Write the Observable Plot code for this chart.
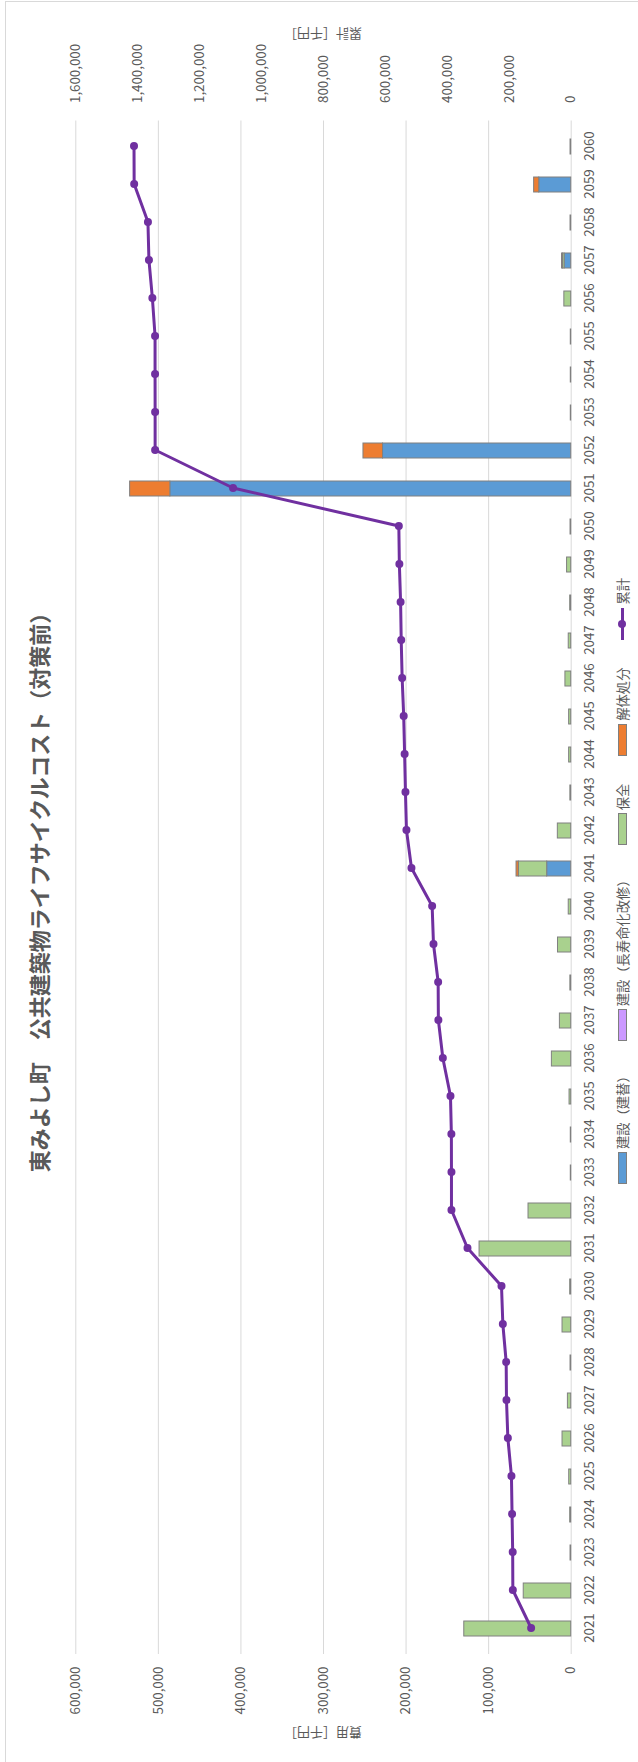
<!DOCTYPE html>
<html><head><meta charset="utf-8">
<script src="https://cdn.jsdelivr.net/npm/d3@7"></script>
<script src="https://cdn.jsdelivr.net/npm/@observablehq/plot@0.6"></script>
<style>
html,body{margin:0;padding:0;width:638px;height:1762px;overflow:hidden;background:#fff;}
#stage{position:absolute;left:0;top:0;width:1762px;height:638px;transform-origin:0 0;transform:translate(0,1762px) rotate(-90deg);font-family:"Noto Sans CJK JP","Noto Sans",sans-serif;color:#595959;}
#frame{position:absolute;left:-5px;top:5px;width:1766px;height:700px;border:1px solid #d9d9d9;box-sizing:border-box;}
#chart{position:absolute;left:0;top:0;}
#title{position:absolute;left:108px;width:1534px;top:26px;text-align:center;font-size:22px;font-weight:bold;line-height:24px;white-space:pre;color:#595959;}
.axtitle{position:absolute;font-size:13px;line-height:16px;white-space:nowrap;transform:translate(-50%,-50%) rotate(-90deg);}
#legend{position:absolute;left:0;width:1762px;top:612px;height:20px;display:flex;justify-content:center;align-items:center;gap:28px;font-size:13.3px;}
.item{display:flex;align-items:center;gap:3px;white-space:nowrap;}
.sw{width:32px;height:9px;border:1px solid #7f7f7f;box-sizing:border-box;}
.ln{position:relative;width:32px;height:9px;}
.ln:before{content:"";position:absolute;left:0;right:0;top:3px;height:3px;background:#7030A0;}
.ln:after{content:"";position:absolute;left:12px;top:0.5px;width:8px;height:8px;border-radius:50%;background:#7030A0;}
</style>
</head><body>
<div id="stage">
  <div id="frame"></div>
  <div id="chart"></div>
  <div id="title">東みよし町　公共建築物ライフサイクルコスト（対策前）</div>
  <div class="axtitle" style="left:29px;top:323px;">費用［千円］</div>
  <div class="axtitle" style="left:1728px;top:323px;">累計［千円］</div>
  <div id="legend"></div>
</div>
<script>
const years = [2021,2022,2023,2024,2025,2026,2027,2028,2029,2030,
  2031,2032,2033,2034,2035,2036,2037,2038,2039,2040,
  2041,2042,2043,2044,2045,2046,2047,2048,2049,2050,
  2051,2052,2053,2054,2055,2056,2057,2058,2059,2060];
const seriesNames = ["建設（建替）","建設（長寿命化改修）","保全","解体処分"];
const seriesColors = ["#5B9BD5","#CC99FF","#A9D18E","#ED7D31"];
const lineName = "累計";
const kensetsuTatekae = [0,0,0,0,0,0,0,0,0,0,
  0,0,0,0,0,0,0,0,0,0,
  29100,0,0,0,0,0,0,0,0,0,
  485500,227900,0,0,0,0,8000,0,38700,0];
const kensetsuChojumyo = [0,0,0,0,0,0,0,0,0,0,
  0,0,0,0,0,0,0,0,0,0,
  0,0,0,0,0,0,0,0,0,0,
  0,0,0,0,0,0,0,0,0,0];
const hozen = [129500,57500,800,1200,2400,10500,4000,800,10500,1200,
  111000,51700,500,500,2000,23400,13700,1000,16000,3000,
  34300,16200,1000,2500,2500,7000,3000,1200,5000,800,
  0,0,500,500,500,8300,2000,800,0,800];
const kaitai = [0,0,0,0,0,0,0,0,0,0,
  0,0,0,0,0,0,0,0,0,0,
  2800,0,0,0,0,0,0,0,0,0,
  48700,23700,0,0,0,0,1100,0,6200,0];
const ruikei = [129500,188500,189000,191000,193000,204600,209000,210000,220800,225100,
  335000,386700,386700,387000,389900,414600,429000,429700,444800,449100,
  515900,532100,535300,538000,541000,546000,549000,551000,555000,556700,
  1092100,1343800,1343800,1344000,1344000,1352700,1363800,1367000,1411500,1412000];
const costTicks = [0,100000,200000,300000,400000,500000,600000];
const cumTicks = [0,200000,400000,600000,800000,1000000,1200000,1400000,1600000];

const k = costTicks[costTicks.length-1] / cumTicks[cumTicks.length-1];
const seriesArrays = [kensetsuTatekae, kensetsuChojumyo, hozen, kaitai];
const rows = [];
years.forEach((yr, i) => {
  seriesArrays.forEach((arr, s) => {
    if (arr[i] > 0) rows.push({year: String(yr), series: seriesNames[s], value: arr[i]});
  });
});
const cum = years.map((yr, i) => ({year: String(yr), v: ruikei[i] * k}));

const chart = Plot.plot({
  width: 1762, height: 638,
  marginLeft: 108, marginRight: 120.5, marginTop: 75.3, marginBottom: 67.3,
  style: {fontFamily: '"Noto Sans CJK JP", "Noto Sans", sans-serif', fontSize: "13.3px", color: "#595959", background: "transparent", overflow: "visible"},
  x: {type: "band", domain: years.map(String), paddingInner: 0.6, paddingOuter: 0.3, label: null},
  y: {domain: [0, 600000], label: null},
  color: {domain: seriesNames, range: seriesColors},
  marks: [
    Plot.gridY(costTicks, {stroke: "#d9d9d9", strokeOpacity: 1, strokeWidth: 1}),
    Plot.barY(rows, {x: "year", y: "value", fill: "series", order: seriesNames, stroke: "#808080", strokeWidth: 1}),
    Plot.line(cum, {x: "year", y: "v", stroke: "#7030A0", strokeWidth: 3}),
    Plot.dot(cum, {x: "year", y: "v", r: 4, fill: "#7030A0"}),
    Plot.axisY(costTicks, {anchor: "left", tickSize: 0, tickPadding: 13, tickFormat: d3.format(","), label: null}),
    Plot.axisY(cumTicks.map(v => v * k), {anchor: "right", tickSize: 0, tickPadding: 17, tickFormat: d => d3.format(",")(Math.round(d / k)), label: null}),
    Plot.axisX({tickSize: 0, tickPadding: 13, label: null})
  ]
});
document.getElementById("chart").appendChild(chart);

const legend = document.getElementById("legend");
seriesNames.forEach((name, i) => {
  const it = document.createElement("div"); it.className = "item";
  const sw = document.createElement("span"); sw.className = "sw"; sw.style.background = seriesColors[i];
  const tx = document.createElement("span"); tx.textContent = name;
  it.appendChild(sw); it.appendChild(tx); legend.appendChild(it);
});
{
  const it = document.createElement("div"); it.className = "item";
  const ln = document.createElement("span"); ln.className = "ln";
  const tx = document.createElement("span"); tx.textContent = lineName;
  it.appendChild(ln); it.appendChild(tx); legend.appendChild(it);
}
</script>
</body></html>
